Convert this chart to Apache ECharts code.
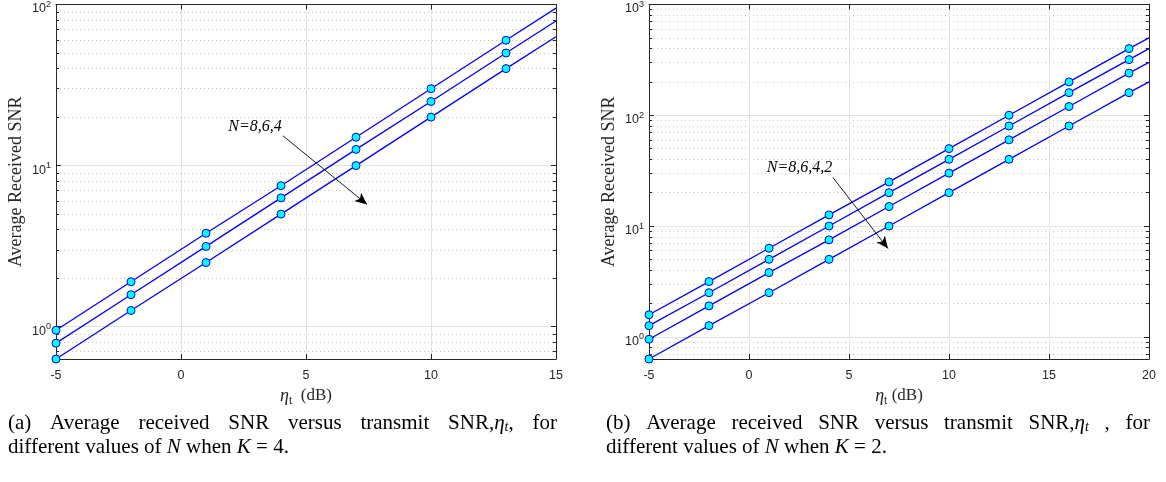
<!DOCTYPE html>
<html><head><meta charset="utf-8">
<script src="https://cdn.jsdelivr.net/npm/echarts@6/dist/echarts.min.js"></script>
<style>html,body{margin:0;padding:0;background:#fff}#c{width:1166px;height:482px}</style>
</head><body><div id="c"></div>
<script>
// ---- data ----
const xA = [-5, -2, 1, 4, 7, 10, 13, 15];
const aN8 = [0.95, 1.9, 3.8, 7.5, 15, 30, 60, 95];
const aN6 = [0.79, 1.58, 3.15, 6.3, 12.6, 25, 50, 79];
const aN4 = [0.63, 1.26, 2.5, 5.0, 10, 20, 40, 63];
const xB = [-5, -2, 1, 4, 7, 10, 13, 16, 19, 20];
const bN8 = [1.58, 3.15, 6.3, 12.6, 25, 50, 100, 200, 400, 500];
const bN6 = [1.26, 2.5, 5.0, 10, 20, 40, 80, 160, 318, 400];
const bN4 = [0.95, 1.9, 3.8, 7.5, 15, 30, 60, 120, 240, 300];
const bN2 = [0.63, 1.26, 2.5, 5.0, 10, 20, 40, 80, 160, 200];
const yMinorA = [0.7, 0.8, 0.9, 2, 3, 4, 5, 6, 7, 8, 9, 20, 30, 40, 50, 60, 70, 80, 90];
const yMinorB = [0.7, 0.8, 0.9, 2, 3, 4, 5, 6, 7, 8, 9, 20, 30, 40, 50, 60, 70, 80, 90, 200, 300, 400, 500, 600, 700, 800, 900];
const arrowA = [[4.08, 15.3], [7.44, 5.74]];
const labelA = [2.96, 17.4];
const arrowB = [[4.19, 27.5], [6.95, 6.26]];
const labelB = [2.53, 33.8];
const textA = 'N=8,6,4';
const textB = 'N=8,6,4,2';

const DARK = '#262626';
const SANS = '"Liberation Sans", Arial, sans-serif';
const SERIF = '"Liberation Serif", "Times New Roman", serif';

function supFormatter(v) {
  const l = Math.log10(v), k = Math.round(l);
  if (Math.abs(l - k) > 1e-6) return '';
  return '{b|10}{s|' + k + '}';
}
const supRich = {
  b: { fontSize: 12.5, fontFamily: SANS, color: DARK, padding: [9, 0, 0, 0] },
  s: { fontSize: 9, fontFamily: SANS, color: DARK }
};

function xAxes(gi, max, nameText) {
  return [{
    type: 'value', gridIndex: gi, min: -5, max: max, interval: 5, position: 'bottom',
    name: nameText, nameLocation: 'middle', nameGap: 26,
    nameTextStyle: { fontFamily: SERIF, fontSize: 17, color: DARK,
      rich: { e: { fontFamily: SERIF, fontStyle: 'italic', fontSize: 18, color: DARK },
              t: { fontFamily: SERIF, fontSize: 12, color: DARK, padding: [10, 0, 0, 0] },
              n: { fontFamily: SERIF, fontSize: 17, color: DARK } } },
    axisLine: { onZero: false, lineStyle: { color: DARK, width: 1 } },
    axisTick: { inside: true, length: 5, lineStyle: { color: DARK } },
    axisLabel: { fontFamily: SANS, fontSize: 12.5, color: DARK, margin: 10 },
    splitLine: { show: true, lineStyle: { color: '#e2e2e2', width: 1 } }
  }, {
    type: 'value', gridIndex: gi, min: -5, max: max, interval: 5, position: 'top',
    axisLine: { onZero: false, lineStyle: { color: DARK, width: 1 } },
    axisTick: { inside: true, length: 5, lineStyle: { color: DARK } },
    axisLabel: { show: false }, splitLine: { show: false }
  }];
}
function yAxes(gi, max, minors) {
  const base = { type: 'log', logBase: 10, gridIndex: gi, min: 0.63, max: max };
  return [
    Object.assign({}, base, {
      position: 'left', name: 'Average Received SNR', nameLocation: 'middle', nameGap: 31,
      nameTextStyle: { fontFamily: SERIF, fontSize: 18, color: DARK },
      axisLine: { show: true, onZero: false, lineStyle: { color: DARK, width: 1 } },
      axisTick: { inside: true, length: 5, lineStyle: { color: DARK } },
      axisLabel: { formatter: supFormatter, rich: supRich, margin: 5, showMinLabel: false },
      splitLine: { show: true, lineStyle: { color: '#e2e2e2', width: 1 } }
    }),
    Object.assign({}, base, {
      position: 'left',
      axisLine: { show: false, onZero: false },
      axisTick: { show: true, inside: true, length: 3, customValues: minors, lineStyle: { color: DARK } },
      axisLabel: { show: false },
      splitLine: { show: true, lineStyle: { color: '#c4c4c4', width: 1, type: [1, 3] } }
    }),
    Object.assign({}, base, {
      position: 'right',
      axisLine: { show: true, onZero: false, lineStyle: { color: DARK, width: 1 } },
      axisTick: { inside: true, length: 5, lineStyle: { color: DARK } },
      axisLabel: { show: false }, splitLine: { show: false }
    }),
    Object.assign({}, base, {
      position: 'right',
      axisLine: { show: false, onZero: false },
      axisTick: { show: true, inside: true, length: 3, customValues: minors, lineStyle: { color: DARK } },
      axisLabel: { show: false }, splitLine: { show: false }
    })
  ];
}

function lineSeries(name, xs, ys, xi, yi, extra) {
  const last = xs.length - 1;
  return Object.assign({
    type: 'line', name: name, xAxisIndex: xi, yAxisIndex: yi, clip: false,
    data: xs.map((x, i) => (i === last ? { value: [x, ys[i]], symbol: 'none' } : { value: [x, ys[i]] })),
    symbol: 'circle', symbolSize: 8, showAllSymbol: true,
    lineStyle: { color: '#0000ff', width: 1.3 },
    itemStyle: { color: '#00ffff', borderColor: '#0000ff', borderWidth: 1 },
    emphasis: { disabled: true }, z: 3
  }, extra || {});
}
function annot(arrow, label, txt) {
  return {
    markLine: {
      silent: true, symbol: ['none', 'arrow'], symbolSize: [8, 12],
      label: { show: false }, emphasis: { disabled: true },
      lineStyle: { color: '#000', width: 0.9, type: 'solid' },
      data: [[{ coord: arrow[0] }, { coord: arrow[1] }]]
    },
    markPoint: {
      silent: true, symbol: 'circle', symbolSize: 0,
      label: { show: true, position: 'inside', formatter: txt, color: '#000',
               fontFamily: SERIF, fontStyle: 'italic', fontSize: 16 },
      data: [{ coord: label }]
    }
  };
}

// ---- caption helper: justified word placement ----
const mctx = document.createElement('canvas').getContext('2d');
const CAP = 21;
const SUB = 14;
const capFonts = {
  r: CAP + 'px ' + SERIF,
  i: 'italic ' + CAP + 'px ' + SERIF,
  sub: 'italic ' + SUB + 'px ' + SERIF
};
const capRich = {
  i: { fontFamily: SERIF, fontStyle: 'italic', fontSize: CAP, fill: '#000' },
  sub: { fontFamily: SERIF, fontStyle: 'italic', fontSize: SUB, fill: '#000', padding: [9, 0, 0, 0] }
};
function wordWidth(parts) {
  let w = 0;
  parts.forEach(p => { mctx.font = capFonts[p[1]]; w += mctx.measureText(p[0]).width; });
  return w;
}
function wordText(parts) {
  return parts.map(p => p[1] === 'r' ? p[0] : '{' + p[1] + '|' + p[0] + '}').join('');
}
function textEl(x, y, parts) {
  return { type: 'text', x: x, y: y, silent: true,
    style: { text: wordText(parts), fontFamily: SERIF, fontSize: CAP, fill: '#000',
             rich: capRich, verticalAlign: 'middle', align: 'left' } };
}
function justified(words, x0, x1, y) {
  const ws = words.map(wordWidth);
  const total = ws.reduce((a, b) => a + b, 0);
  const gap = (x1 - x0 - total) / (words.length - 1);
  let x = x0;
  return words.map((w, i) => { const el = textEl(x, y, w); x += ws[i] + gap; return el; });
}
const capA1 = [[['(a)', 'r']], [['Average', 'r']], [['received', 'r']], [['SNR', 'r']], [['versus', 'r']],
  [['transmit', 'r']], [['SNR,', 'r'], ['η', 'i'], ['t', 'sub'], [',', 'r']], [['for', 'r']]];
const capB1 = [[['(b)', 'r']], [['Average', 'r']], [['received', 'r']], [['SNR', 'r']], [['versus', 'r']],
  [['transmit', 'r']], [['SNR,', 'r'], ['η', 'i'], ['t', 'sub']], [[',', 'r']], [['for', 'r']]];
const capA2 = [['different values of ', 'r'], ['N', 'i'], [' when ', 'r'], ['K', 'i'], [' = 4.', 'r']];
const capB2 = [['different values of ', 'r'], ['N', 'i'], [' when ', 'r'], ['K', 'i'], [' = 2.', 'r']];

const graphics = []
  .concat(justified(capA1, 8, 557, 423))
  .concat(justified(capB1, 606, 1150, 423))
  .concat([textEl(8, 447, capA2), textEl(606, 447, capB2)]);

const chart = echarts.init(document.getElementById('c'), null, { renderer: 'canvas' });
chart.setOption({
  animation: false,
  backgroundColor: '#fff',
  grid: [
    { left: 56, right: 610, top: 4, bottom: 123 },
    { left: 649, right: 17, top: 4, bottom: 123 }
  ],
  xAxis: [].concat(xAxes(0, 15, '{e|η}{t|t}  {n|(dB)}'), xAxes(1, 20, '{e|η}{t|t} {n|(dB)}')),
  yAxis: [].concat(yAxes(0, 100, yMinorA), yAxes(1, 1000, yMinorB)),
  series: [
    lineSeries('N=8', xA, aN8, 0, 0, annot(arrowA, labelA, textA)),
    lineSeries('N=6', xA, aN6, 0, 0),
    lineSeries('N=4', xA, aN4, 0, 0),
    lineSeries('N=8', xB, bN8, 2, 4, annot(arrowB, labelB, textB)),
    lineSeries('N=6', xB, bN6, 2, 4),
    lineSeries('N=4', xB, bN4, 2, 4),
    lineSeries('N=2', xB, bN2, 2, 4)
  ],
  graphic: graphics
});
</script></body></html>
